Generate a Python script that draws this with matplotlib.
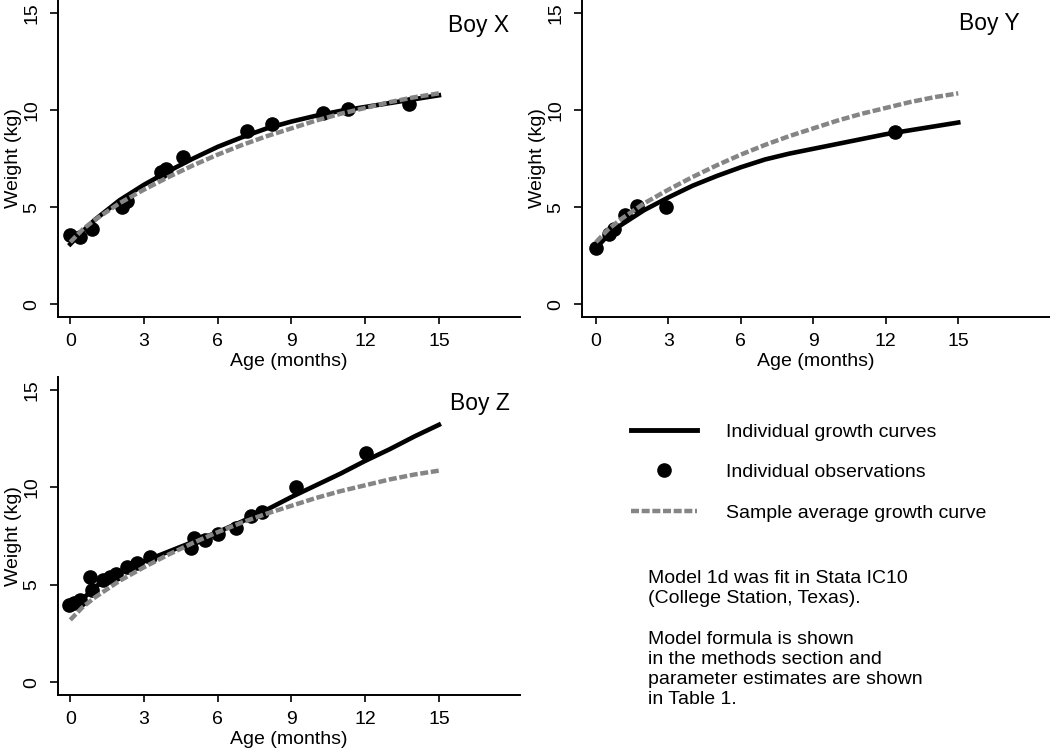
import matplotlib
matplotlib.use("Agg")
import matplotlib.pyplot as plt
from matplotlib.lines import Line2D

plt.rcParams["font.family"] = ["Liberation Sans", "DejaVu Sans"]

# -----------------------------
# data
# -----------------------------
age_grid = [0, 0.5, 1, 2, 3, 4, 5, 6, 7, 8, 9, 10, 11, 12, 13, 14, 15]

# sample average growth curve (same in every panel)
avg_curve = [3.2, 3.85, 4.35, 5.2, 5.9, 6.55, 7.15, 7.7, 8.2, 8.65, 9.05,
             9.45, 9.8, 10.1, 10.4, 10.65, 10.85]

# individual growth curves
x_curve = [3.1, 3.75, 4.35, 5.35, 6.15, 6.85, 7.5, 8.1, 8.6, 9.05, 9.4,
           9.7, 9.95, 10.15, 10.35, 10.55, 10.75]
y_curve = [2.9, 3.55, 4.05, 4.85, 5.5, 6.1, 6.6, 7.05, 7.45, 7.75, 8.0,
           8.25, 8.5, 8.75, 8.95, 9.15, 9.35]
z_curve = [3.95, 4.25, 4.9, 5.6, 6.2, 6.7, 7.2, 7.7, 8.25, 8.85, 9.5,
           10.1, 10.7, 11.35, 11.95, 12.6, 13.2]

# individual observations
x_age = [0.0, 0.4, 0.9, 2.1, 2.3, 3.7, 3.9, 4.6, 7.2, 8.2, 10.3, 11.3, 13.8]
x_wt = [3.55, 3.45, 3.85, 5.0, 5.3, 6.8, 6.95, 7.6, 8.9, 9.25, 9.85, 10.05, 10.3]

y_age = [0.0, 0.55, 0.75, 1.2, 1.7, 2.9, 12.4]
y_wt = [2.9, 3.6, 3.9, 4.6, 5.05, 5.0, 8.85]

z_age = [-0.05, 0.15, 0.4, 0.8, 0.9, 1.35, 1.6, 1.85, 2.3, 2.7, 3.25, 4.9,
         5.05, 5.5, 6.0, 6.75, 7.35, 7.8, 9.2, 12.05]
z_wt = [3.95, 4.05, 4.2, 5.4, 4.75, 5.25, 5.4, 5.55, 5.9, 6.1, 6.4, 6.9,
        7.4, 7.3, 7.6, 7.9, 8.5, 8.75, 10.0, 11.75]

panels = [
    ("Boy X", x_curve, x_age, x_wt),
    ("Boy Y", y_curve, y_age, y_wt),
    ("Boy Z", z_curve, z_age, z_wt),
]

x_ticks = [0, 3, 6, 9, 12, 15]
y_ticks = [0, 5, 10, 15]

legend_labels = ["Individual growth curves", "Individual observations",
                 "Sample average growth curve"]
note_text = ("Model 1d was fit in Stata IC10\n(College Station, Texas).\n\n"
             "Model formula is shown\nin the methods section and\n"
             "parameter estimates are shown\nin Table 1.")

# -----------------------------
# figure
# -----------------------------
W, H = 1050, 751
fig = plt.figure(figsize=(W / 100, H / 100), dpi=100)

# axes boxes in pixels: left, top, right, bottom
boxes = [(58, 0, 520, 317), (582, 0, 1050, 317), (58, 377, 520, 695)]
xlims = [(-0.5, 18.3), (-0.58, 18.8), (-0.5, 18.3)]
title_pos = [(0.976, 0.92), (0.936, 0.927), (0.978, 0.918)]

gray = "#858585"
fs = 14

for (name, curve, obs_x, obs_y), (l, t, r, b), xl, tp in zip(panels, boxes, xlims, title_pos):
    ax = fig.add_axes([l / W, 1 - b / H, (r - l) / W, (b - t) / H])
    ax.plot(obs_x, obs_y, "o", color="black", ms=9.5, zorder=2)
    ax.plot(age_grid, curve, color="black", lw=3.3, zorder=3)
    ax.plot(age_grid, avg_curve, color=gray, lw=3.2, dashes=(1.8, 0.6), zorder=4)
    ax.set_xlim(*xl)
    ax.set_ylim(-0.65, 15.65)
    ax.set_xticks(x_ticks)
    ax.set_yticks(y_ticks)
    for s in ["top", "right"]:
        ax.spines[s].set_visible(False)
    for s in ["left", "bottom"]:
        ax.spines[s].set_linewidth(1.4)
    ax.tick_params(direction="out", length=5, width=1.2, labelsize=fs, pad=6.5)
    ax.tick_params(axis="y", labelrotation=90, pad=7, length=5.5)
    for lab in ax.get_yticklabels():
        lab.set_va("center")
    ax.set_xlabel("Age (months)", fontsize=fs, labelpad=2)
    ax.set_ylabel("Weight (kg)", fontsize=fs, labelpad=1.5)
    ax.text(tp[0], tp[1], name, transform=ax.transAxes, ha="right", va="center",
            fontsize=16.5)

handles = [
    Line2D([], [], color="black", lw=3.5),
    Line2D([], [], color="black", marker="o", ms=9.5, ls="none"),
    Line2D([], [], color=gray, lw=3.2, dashes=(1.8, 0.6)),
]
fig.legend(handles, legend_labels, loc="upper left",
           bbox_to_anchor=(631 / W, 1 - 423 / H), frameon=False, fontsize=fs,
           handlelength=3.4, handletextpad=1.5, labelspacing=1.18,
           borderpad=0, borderaxespad=0)

fig.text(648 / W, 1 - 570 / H, note_text, ha="left", va="top", fontsize=fs,
         linespacing=1.25)

fig.savefig("out.png", dpi=100)
